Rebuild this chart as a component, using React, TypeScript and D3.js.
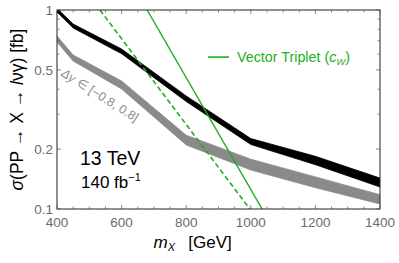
import React from "react";
import * as d3 from "d3";

// mass points (GeV) where the limit curves are sampled
const massGrid = [400, 450, 600, 800, 1000, 1200, 1400];
// black band (upper / lower edge), fb
const blackUpper = [1.02, 0.85, 0.637, 0.37, 0.226, 0.184, 0.143];
const blackLower = [0.977, 0.812, 0.603, 0.347, 0.211, 0.167, 0.129];
// gray band, Δy in [-0.8, 0.8]
const grayUpper = [0.74, 0.594, 0.44, 0.235, 0.178, 0.145, 0.118];
const grayLower = [0.69, 0.554, 0.401, 0.21, 0.157, 0.128, 0.106];
// vector triplet predictions
const tripletMass = [679, 1035];
const tripletXsec = [1, 0.1];
const tripletDashMass = [533, 997];
const tripletDashXsec = [1, 0.1];

const xTicks = [400, 600, 800, 1000, 1200, 1400];
const yTicks = [0.1, 0.2, 0.5, 1];
const yTickLabels = ["0.1", "0.2", "0.5", "1"];

const W = 399;
const H = 263;
const margin = { top: 10, right: 19, bottom: 54, left: 57 };
const green = "#1fae1f";
const font = "Liberation Sans, Arial, sans-serif";

const App = () => {
  const x = d3.scaleLinear().domain([400, 1400]).range([margin.left, W - margin.right]);
  const y = d3.scaleLog().domain([0.1, 1]).range([H - margin.bottom, margin.top]);
  const [x0, x1] = x.range();
  const [y0, y1] = y.range();

  const band = (lo: number[], hi: number[]) =>
    d3.area<number>()
      .x((_, i) => x(massGrid[i]))
      .y0((_, i) => y(lo[i]))
      .y1((_, i) => y(hi[i]))(massGrid) || "";

  const line = (xs: number[], ys: number[]) =>
    d3.line<number>()
      .x((d) => x(d))
      .y((_, i) => y(ys[i]))(xs) || "";

  const minorX = d3.range(400, 1401, 50);
  const minorY = [0.1, 0.2, 0.3, 0.4, 0.5, 0.6, 0.7, 0.8, 0.9, 1];

  return (
    <svg width={W} height={H} style={{ position: "absolute", left: 0, top: 0 }} fontFamily={font}>
      <defs>
        <clipPath id="plot">
          <rect x={x0} y={y1} width={x1 - x0} height={y0 - y1} />
        </clipPath>
      </defs>
      <rect width={W} height={H} fill="white" />

      <g clipPath="url(#plot)">
        <path d={band(grayLower, grayUpper)} fill="#8a8a8a" stroke="#8a8a8a" strokeWidth={0.8} />
        <path d={band(blackLower, blackUpper)} fill="black" stroke="black" strokeWidth={0.8} />
        <path d={line(tripletDashMass, tripletDashXsec)} fill="none" stroke={green} strokeWidth={1.6} strokeDasharray="5,3" />
        <path d={line(tripletMass, tripletXsec)} fill="none" stroke={green} strokeWidth={1.4} />
      </g>

      {/* frame */}
      <rect x={x0} y={y1} width={x1 - x0} height={y0 - y1} fill="none" stroke="#222" strokeWidth={1} />

      {/* x ticks */}
      {minorX.map((m) => {
        const major = xTicks.includes(m);
        const len = major ? 4 : 2.5;
        return (
          <g key={"x" + m} stroke="#555" strokeWidth={0.7}>
            <line x1={x(m)} x2={x(m)} y1={y0} y2={y0 - len} />
            <line x1={x(m)} x2={x(m)} y1={y1} y2={y1 + len} />
          </g>
        );
      })}
      {xTicks.map((m) => (
        <text key={"xl" + m} x={x(m)} y={y0 + 18} textAnchor="middle" fontSize={13.5} fill="#6b6b6b">
          {m}
        </text>
      ))}

      {/* y ticks */}
      {minorY.map((v) => {
        const major = yTicks.includes(v);
        const len = major ? 4 : 2.5;
        return (
          <g key={"y" + v} stroke="#555" strokeWidth={0.7}>
            <line x1={x0} x2={x0 + len} y1={y(v)} y2={y(v)} />
            <line x1={x1} x2={x1 - len} y1={y(v)} y2={y(v)} />
          </g>
        );
      })}
      {yTicks.map((v, i) => (
        <text key={"yl" + v} x={x0 - 4} y={y(v) + 5} textAnchor="end" fontSize={13.5} fill="#6b6b6b">
          {yTickLabels[i]}
        </text>
      ))}

      {/* axis labels */}
      <text x={x(820)} y={248} textAnchor="middle" fontSize={17} fill="black">
        <tspan fontStyle="italic">m</tspan>
        <tspan fontStyle="italic" fontSize={11} dy={3}>X</tspan>
        <tspan dy={-3}>{"\u2002 [GeV]"}</tspan>
      </text>
      <text transform={`translate(23,${(y0 + y1) / 2}) rotate(-90)`} textAnchor="middle" fontSize={17.5} fill="black">
        <tspan fontStyle="italic">σ</tspan>
        <tspan>(PP → X → </tspan>
        <tspan fontStyle="italic">l</tspan>
        <tspan>νγ) [fb]</tspan>
      </text>

      {/* legend */}
      <line x1={208} x2={229} y1={y(0.58)} y2={y(0.58)} stroke={green} strokeWidth={1.6} />
      <text x={237} y={y(0.58) + 5} fontSize={14.3} fill={green}>
        Vector Triplet (<tspan fontStyle="italic">c</tspan>
        <tspan fontStyle="italic" fontSize={9.5} dy={3}>W</tspan>
        <tspan dy={-3}>)</tspan>
      </text>

      {/* annotations */}
      <text transform={`translate(${x(410)},${y(0.47)}) rotate(32)`} fontSize={12.5} fill="#8a8a8a">
        <tspan fontStyle="italic">Δy</tspan> ∈ [−0.8, 0.8]
      </text>
      <text x={80} y={165} fontSize={19.5} fill="black">13 TeV</text>
      <text x={81} y={188} fontSize={17} fill="black">
        140 fb<tspan fontSize={11} dy={-7}>−1</tspan>
      </text>
    </svg>
  );
};

export default App;
